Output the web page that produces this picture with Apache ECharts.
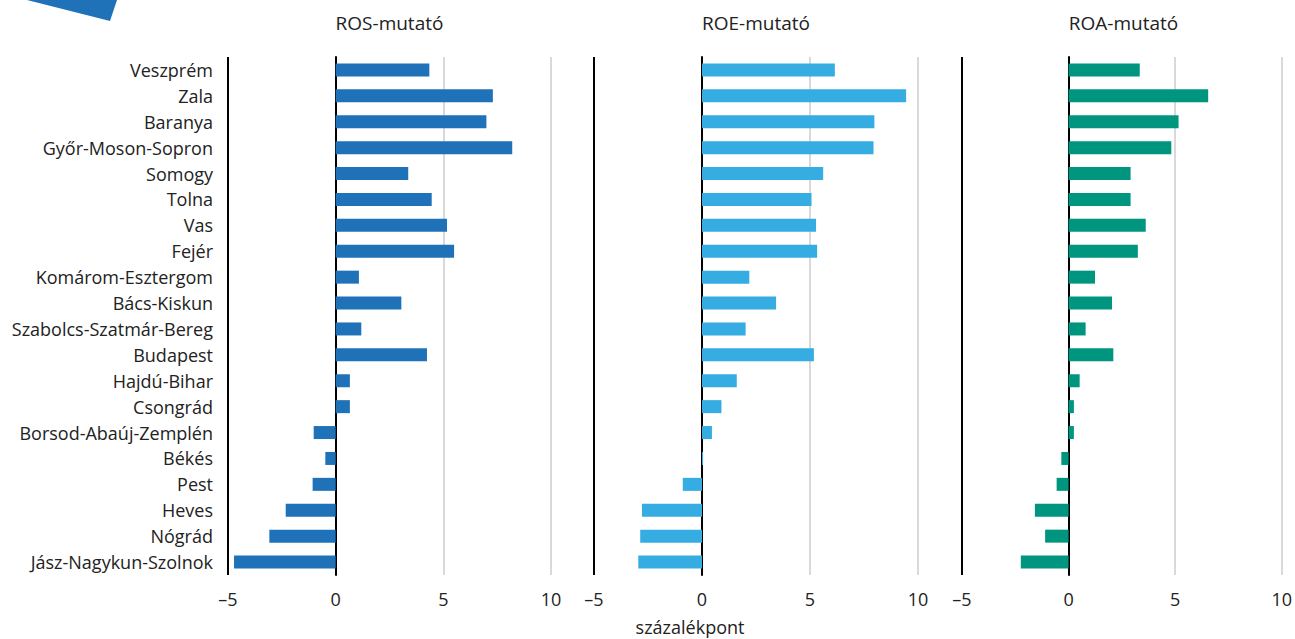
<!DOCTYPE html>
<html>
<head>
<meta charset="utf-8">
<script src="https://cdn.jsdelivr.net/npm/echarts@6/dist/echarts.min.js"></script>
<style>
  html, body { margin: 0; padding: 0; background: #fff; }
  #main { width: 1295px; height: 639px; }
</style>
</head>
<body>
<div id="main"></div>
<script>
// megyék, felülről lefelé
var counties = ['Veszprém', 'Zala', 'Baranya', 'Győr-Moson-Sopron', 'Somogy', 'Tolna', 'Vas', 'Fejér',
    'Komárom-Esztergom', 'Bács-Kiskun', 'Szabolcs-Szatmár-Bereg', 'Budapest', 'Hajdú-Bihar', 'Csongrád',
    'Borsod-Abaúj-Zemplén', 'Békés', 'Pest', 'Heves', 'Nógrád', 'Jász-Nagykun-Szolnok'];

var ros = [4.35, 7.3, 7.0, 8.2, 3.37, 4.46, 5.17, 5.5, 1.08, 3.05, 1.19, 4.24, 0.66, 0.66,
    -1.02, -0.48, -1.07, -2.32, -3.08, -4.72];
var roe = [6.15, 9.45, 7.98, 7.94, 5.61, 5.07, 5.28, 5.33, 2.19, 3.43, 2.02, 5.18, 1.61, 0.9,
    0.46, 0.05, -0.89, -2.78, -2.86, -2.95];
var roa = [3.34, 6.55, 5.16, 4.82, 2.91, 2.91, 3.62, 3.25, 1.24, 2.04, 0.8, 2.1, 0.52, 0.25,
    0.25, -0.34, -0.56, -1.58, -1.1, -2.24];

var panelTitles = ['ROS-mutató', 'ROE-mutató', 'ROA-mutató'];
var colors = ['#1f72b8', '#35ace2', '#00957f'];
var unitLabel = 'százalékpont';

var fontName = 'Open Sans';
var textColor = '#222';

// panelek vízszintes helye (bal szél, jobb margó)
var grids = [
    {left: 228, right: 744, top: 57, bottom: 64},
    {left: 594, right: 377, top: 57, bottom: 64},
    {left: 962, right: 10, top: 57, bottom: 64}
];

var myChart = echarts.init(document.getElementById('main'), null, {renderer: 'svg'});

var xAxes = [], yAxes = [], series = [], graphics = [];
for (var i = 0; i < 3; i++) {
    xAxes.push({
        type: 'value',
        gridIndex: i,
        min: -5,
        max: 10,
        interval: 5,
        axisLine: {show: false},
        axisTick: {show: false},
        axisLabel: {
            color: textColor,
            fontFamily: fontName,
            fontSize: 18,
            margin: 15,
            formatter: function (v) {
                return String(v).replace('-', '–');
            }
        },
        splitLine: {
            show: true,
            lineStyle: {
                color: ['#000', '#000', '#d9d9d9', '#d9d9d9'],
                width: 2
            }
        }
    });
    yAxes.push({
        type: 'category',
        gridIndex: i,
        data: counties,
        inverse: true,
        axisLine: {show: true, onZero: true, lineStyle: {color: '#000', width: 2}},
        axisTick: {show: false},
        axisLabel: {
            show: i === 0,
            color: textColor,
            fontFamily: fontName,
            fontSize: 18,
            margin: 15
        },
        splitLine: {show: false}
    });
    graphics.push({
        type: 'text',
        x: grids[i].left + (1295 - grids[i].right - grids[i].left) / 2,
        y: 23,
        style: {
            text: panelTitles[i],
            fill: textColor,
            font: '19px "' + fontName + '"',
            textAlign: 'center',
            textVerticalAlign: 'middle'
        }
    });
}

series.push({name: panelTitles[0], type: 'bar', xAxisIndex: 0, yAxisIndex: 0, data: ros,
    barWidth: 13, itemStyle: {color: colors[0]}});
series.push({name: panelTitles[1], type: 'bar', xAxisIndex: 1, yAxisIndex: 1, data: roe,
    barWidth: 13, itemStyle: {color: colors[1]}});
series.push({name: panelTitles[2], type: 'bar', xAxisIndex: 2, yAxisIndex: 2, data: roa,
    barWidth: 13, itemStyle: {color: colors[2]}});

graphics.push({
    type: 'text',
    x: 690,
    y: 627,
    style: {
        text: unitLabel,
        fill: textColor,
        font: '18px "' + fontName + '"',
        textAlign: 'center',
        textVerticalAlign: 'middle'
    }
});
// kék sarokdísz
graphics.push({
    type: 'polygon',
    shape: {points: [[27, 0], [117, 0], [110, 21]]},
    style: {fill: '#1f72b8'}
});

var option = {
    animation: false,
    grid: grids,
    xAxis: xAxes,
    yAxis: yAxes,
    series: series,
    graphic: graphics
};
myChart.setOption(option);
</script>
</body>
</html>
